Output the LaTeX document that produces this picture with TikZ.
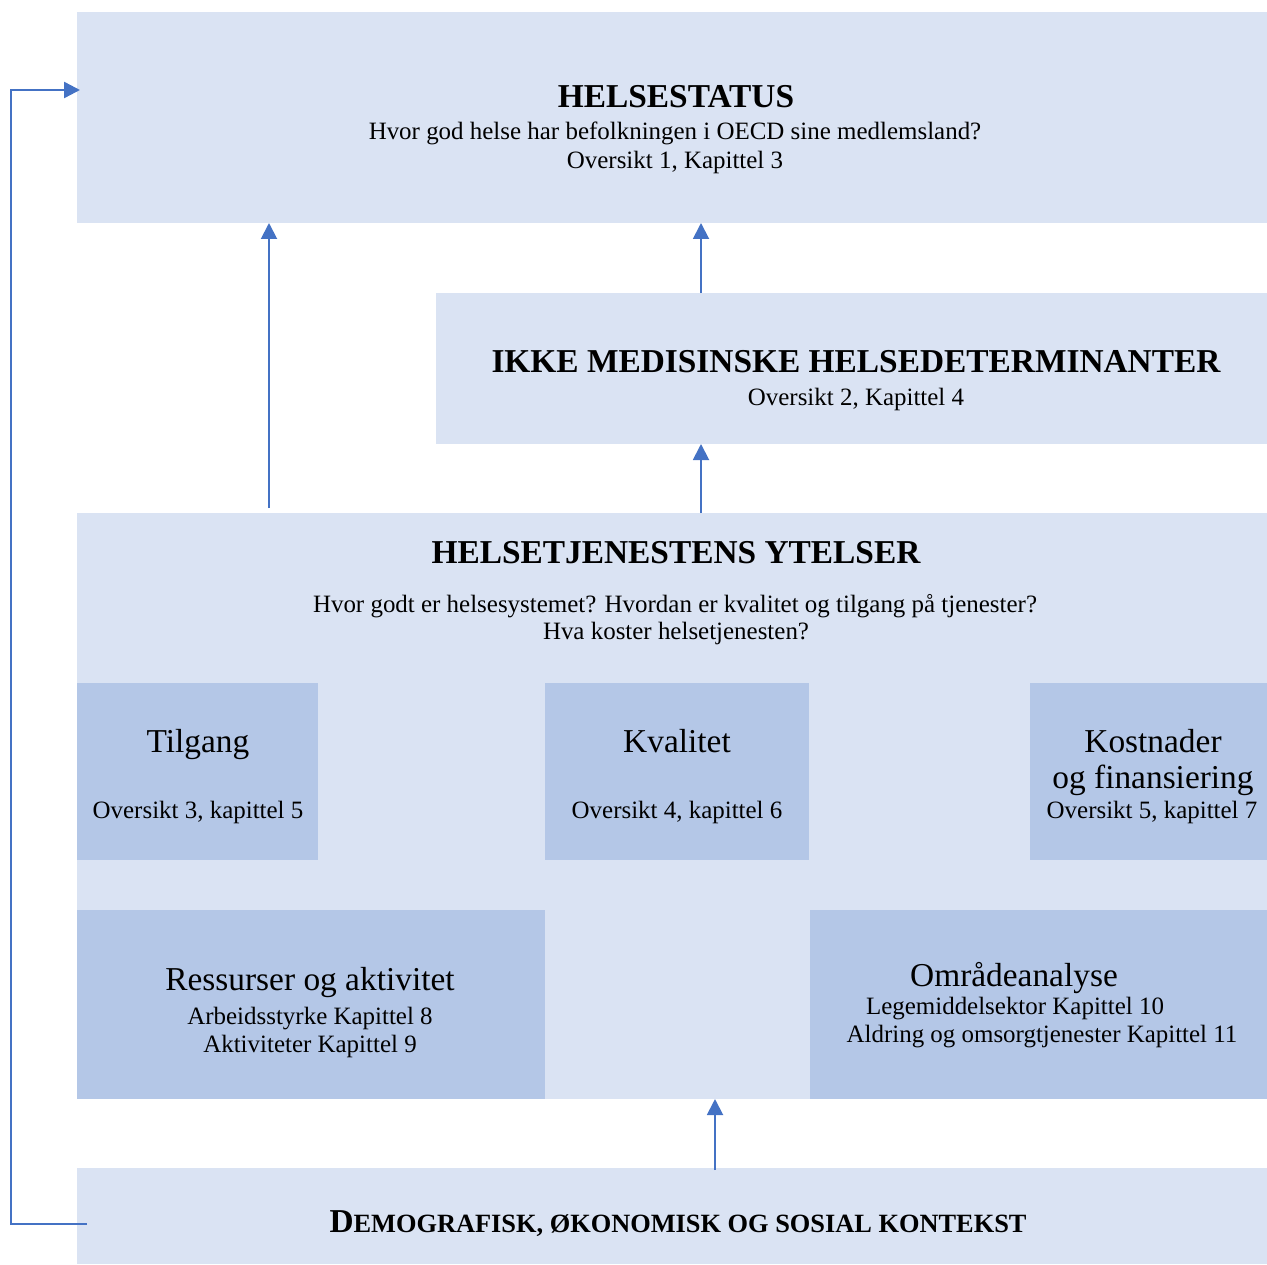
\documentclass[tikz,border=0pt]{standalone}
\usepackage{fontspec}
\setmainfont{Liberation Serif}
\usetikzlibrary{arrows.meta}
\definecolor{paleblue}{RGB}{218,227,243}
\definecolor{midblue}{RGB}{180,199,231}
\definecolor{arrowblue}{RGB}{68,114,196}
\def\u{0.02cm}
\newcommand{\smallcapsfake}[1]{{\fontsize{15}{18}\selectfont #1}}

\begin{document}
\begin{tikzpicture}[
	x=0.02cm, y=-0.02cm,
	panel/.style={fill=paleblue, anchor=north west, inner sep=0pt, outer sep=0pt},
	subpanel/.style={fill=midblue, anchor=north west, inner sep=0pt, outer sep=0pt},
	headline/.style={font=\fontsize{19}{23}\selectfont\bfseries, anchor=base, inner sep=0pt},
	boxtitle/.style={font=\fontsize{19}{23}\selectfont, anchor=base, inner sep=0pt},
	smalltext/.style={font=\fontsize{14.2}{17}\selectfont, anchor=base, inner sep=0pt},
	flow/.style={draw=arrowblue, line width=1.1pt, -{Triangle[length=0.32cm,width=0.32cm]}}
]

	\useasboundingbox (0,0) rectangle (1267,1264);

	% panels
	\node[panel, minimum width=1190*\u, minimum height=211*\u] (helsestatus) at (77,12) {};
	\node[panel, minimum width=831*\u, minimum height=151*\u] (ikke) at (436,293) {};
	\node[panel, minimum width=1190*\u, minimum height=586*\u] (ytelser) at (77,513) {};
	\node[panel, minimum width=1190*\u, minimum height=96*\u] (kontekst) at (77,1168) {};

	% sub panels
	\node[subpanel, minimum width=241*\u, minimum height=177*\u] (tilgang) at (77,683) {};
	\node[subpanel, minimum width=264*\u, minimum height=177*\u] (kvalitet) at (545,683) {};
	\node[subpanel, minimum width=237*\u, minimum height=177*\u] (kostnader) at (1030,683) {};
	\node[subpanel, minimum width=468*\u, minimum height=189*\u] (ressurser) at (77,910) {};
	\node[subpanel, minimum width=457*\u, minimum height=189*\u] (omraade) at (810,910) {};

	% texts
	\node[headline] (t1) at (676,108) {HELSESTATUS};
	\node[smalltext] (t1a) at (675,139) {Hvor god helse har befolkningen i OECD sine medlemsland?};
	\node[smalltext] (t1b) at (675,168) {Oversikt 1, Kapittel 3};

	\node[headline] (t2) at (856,372) {IKKE MEDISINSKE HELSEDETERMINANTER};
	\node[smalltext] (t2a) at (856,405) {Oversikt 2, Kapittel 4};

	\node[headline] (t3) at (676,563) {HELSETJENESTENS YTELSER};
	\node[smalltext] (t3a) at (675,612) {Hvor godt er helsesystemet? Hvordan er kvalitet og tilgang på tjenester?};
	\node[smalltext] (t3b) at (676,639) {Hva koster helsetjenesten?};

	\node[boxtitle] (t4) at (198,752) {Tilgang};
	\node[smalltext] (t4a) at (198,818) {Oversikt 3, kapittel 5};
	\node[boxtitle] (t5) at (677,752) {Kvalitet};
	\node[smalltext] (t5a) at (677,818) {Oversikt 4, kapittel 6};
	\node[boxtitle] (t6) at (1153,752) {Kostnader};
	\node[boxtitle] (t6a) at (1153,788) {og finansiering};
	\node[smalltext] (t6b) at (1152,818) {Oversikt 5, kapittel 7};

	\node[boxtitle] (t7) at (310,990) {Ressurser og aktivitet};
	\node[smalltext] (t7a) at (310,1024) {Arbeidsstyrke Kapittel 8};
	\node[smalltext] (t7b) at (310,1052) {Aktiviteter Kapittel 9};

	\node[boxtitle] (t8) at (1014,986) {Områdeanalyse};
	\node[smalltext] (t8a) at (1015,1014) {Legemiddelsektor Kapittel 10};
	\node[smalltext] (t8b) at (1042,1042) {Aldring og omsorgtjenester Kapittel 11};

	\node[headline] (t9) at (678,1232) {D\smallcapsfake{EMOGRAFISK, ØKONOMISK OG SOSIAL KONTEKST}};

	% arrows
	\coordinate (leftArrow) at (269,0);
	\coordinate (midArrow) at (701,0);
	\coordinate (lowArrow) at (715,0);
	\draw[flow] ([yshift=5*\u]ytelser.north -| leftArrow) -- (helsestatus.south -| leftArrow);
	\draw[flow] (ikke.north -| midArrow) -- (helsestatus.south -| midArrow);
	\draw[flow] (ytelser.north -| midArrow) -- (ikke.south -| midArrow);
	\draw[flow] ([yshift=-2*\u]kontekst.north -| lowArrow) -- (ytelser.south -| lowArrow);

	% feedback loop
	\coordinate (feedOut) at (87,1224);
	\coordinate (feedIn) at (80,90);
	\draw[flow, line width=1.4pt] (feedOut) -- ++(-76,0) |- (feedIn);

\end{tikzpicture}
\end{document}
